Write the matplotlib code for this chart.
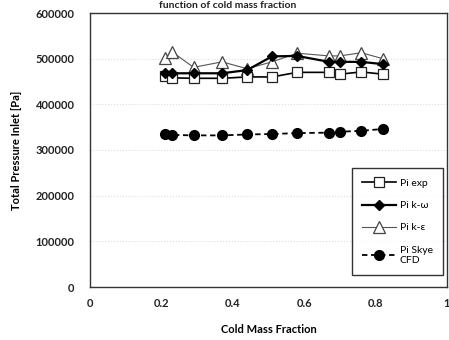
import matplotlib.pyplot as plt

plt.rcParams['font.family'] = ['Lato', 'DejaVu Sans']

# cold mass fraction
cmf = [0.21, 0.23, 0.29, 0.37, 0.44, 0.51, 0.58, 0.67, 0.70, 0.76, 0.82]

pi_exp = [462000, 458000, 457000, 457000, 460000, 460000, 470000, 470000, 466000, 471000, 466000]
pi_kw = [468000, 468000, 468000, 468000, 475000, 505000, 506000, 493000, 493000, 493000, 488000]
pi_ke = [502000, 515000, 481000, 493000, 478000, 493000, 512000, 506000, 506000, 513000, 500000]
pi_skye = [335000, 333000, 332000, 332000, 334000, 335000, 337000, 338000, 340000, 342000, 346000]

fig = plt.figure(figsize=(4.49, 3.40), dpi=100)
ax = fig.add_axes([90 / 449, 53 / 340, 357 / 449, 274 / 340])

ax.plot(cmf, pi_exp, color="black", lw=1.2, marker="s", ms=7,
        mfc="white", mec="#222222", mew=0.9, label="Pi exp", zorder=3)
ax.plot(cmf, pi_kw, color="black", lw=1.6, marker="D", ms=5,
        mfc="black", mec="black", label="Pi k-\u03c9", zorder=4)
ax.plot(cmf, pi_ke, color="#555555", lw=0.8, marker="^", ms=8,
        mfc="white", mec="#444444", mew=0.9, label="Pi k-\u03b5", zorder=2)
ax.plot(cmf, pi_skye, color="black", lw=1.3, ls="--", dashes=(3, 2),
        marker="o", ms=7, mfc="black", mec="black", label="Pi Skye\nCFD", zorder=3)

ax.set_xlim(0, 1)
ax.set_ylim(0, 600000)
ax.set_xticks([0, 0.2, 0.4, 0.6, 0.8, 1])
ax.set_xticklabels(["0", "0.2", "0.4", "0.6", "0.8", "1"])
ax.set_yticks(range(0, 600001, 100000))
ax.tick_params(length=0, labelsize=8, colors="#222222")
ax.tick_params(axis="y", pad=11)
ax.tick_params(axis="x", pad=8)
for lbl in ax.get_xticklabels() + ax.get_yticklabels():
    lbl.set_fontweight("bold")

ax.yaxis.grid(True, color="#dddddd", ls=":", lw=0.8)
for s in ax.spines.values():
    s.set_color("#333333")
    s.set_linewidth(1.0)

ax.set_xlabel("Cold Mass Fraction", fontsize=8, fontweight="bold", labelpad=11)
ax.set_ylabel("Total Pressure Inlet [Pa]", fontsize=8, fontweight="bold", labelpad=10)

leg = ax.legend(loc="lower right", bbox_to_anchor=(0.995, 0.035), fontsize=7.5,
                frameon=True, fancybox=False, edgecolor="black",
                handlelength=3.2, labelspacing=1.25, borderpad=1.0, handletextpad=0.4,
                borderaxespad=0.2)
leg.get_frame().set_linewidth(1.0)

fig.text(228 / 449, 0.998, "function of cold mass fraction", ha="center", va="top",
         fontsize=7.5, fontweight="bold", color="#222222")

fig.savefig("out.png", dpi=100)
